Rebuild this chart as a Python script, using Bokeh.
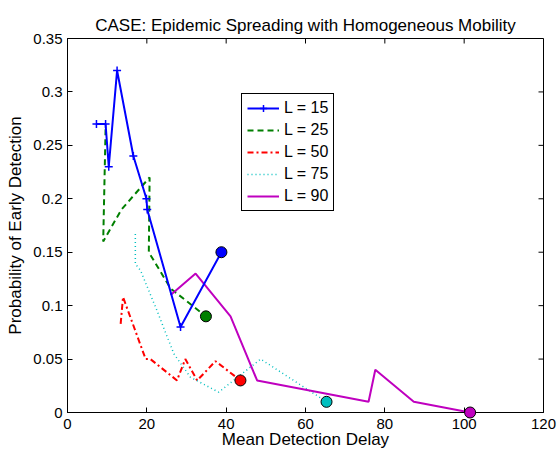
import math
from bokeh.plotting import figure
from bokeh.models import Legend, LegendItem, FixedTicker, Range1d
from bokeh.embed import file_html
from bokeh.resources import INLINE

# ---- data ----
title_text = "CASE: Epidemic Spreading with Homogeneous Mobility"
x_label = "Mean Detection Delay"
y_label = "Probability of Early Detection"

x_ticks = [0, 20, 40, 60, 80, 100, 120]
y_ticks = [0, 0.05, 0.1, 0.15, 0.2, 0.25, 0.3, 0.35]
y_tick_labels = ["0", "0.05", "0.1", "0.15", "0.2", "0.25", "0.3", "0.35"]

labels = ["L = 15", "L = 25", "L = 50", "L = 75", "L = 90"]

l15_x = [7.3, 9.6, 10.4, 12.5, 16.6, 19.9, 20.1, 28.5, 38.8]
l15_y = [0.27, 0.27, 0.23, 0.32, 0.24, 0.20, 0.19, 0.08, 0.15]

l25_x = [9.6, 9.0, 13.6, 20.7, 20.5, 26.0, 34.9]
l25_y = [0.265, 0.16, 0.19, 0.22, 0.15, 0.116, 0.09]

l50_x = [13.4, 14.0, 19.7, 20.9, 27.6, 29.7, 32.7, 37.3, 43.6]
l50_y = [0.083, 0.108, 0.05, 0.05, 0.03, 0.05, 0.03, 0.048, 0.03]

l75_x = [17.1, 17.1, 18.4, 22.6, 26.8, 31.0, 38.1, 48.7, 65.3]
l75_y = [0.167, 0.139, 0.133, 0.095, 0.055, 0.033, 0.019, 0.05, 0.01]

l90_x = [26.0, 32.3, 41.1, 47.8, 75.9, 77.6, 87.3, 101.5]
l90_y = [0.11, 0.13, 0.09, 0.03, 0.01, 0.04, 0.01, 0.0]

FONT = "Liberation Sans"

p = figure(width=559, height=452, output_backend="svg", toolbar_location=None,
           x_range=Range1d(x_ticks[0], x_ticks[-1]),
           y_range=Range1d(y_ticks[0], y_ticks[-1]),
           min_border_left=67, min_border_right=16, min_border_top=38,
           min_border_bottom=40)

p.title.text = title_text
p.title.align = "center"
p.title.text_font = FONT
p.title.text_font_size = "17px"
p.title.text_font_style = "normal"
p.title.text_color = "black"
p.title.standoff = 8

p.xgrid.grid_line_color = None
p.ygrid.grid_line_color = None
p.outline_line_color = "black"
p.outline_line_alpha = 1
p.outline_line_width = 1
p.background_fill_color = "white"
p.border_fill_color = "white"

for ax, ticks in ((p.xaxis[0], x_ticks), (p.yaxis[0], y_ticks)):
    ax.ticker = FixedTicker(ticks=ticks)
    ax.major_tick_in = 5
    ax.major_tick_out = 0
    ax.minor_tick_line_color = None
    ax.axis_line_color = "black"
    ax.major_tick_line_color = "black"
    ax.major_label_text_font = FONT
    ax.major_label_text_color = "black"
    ax.major_label_text_font_size = "15px"
    ax.axis_label_text_font = FONT
    ax.axis_label_text_font_size = "17px"
    ax.axis_label_text_font_style = "normal"
    ax.axis_label_text_color = "black"

p.yaxis[0].major_label_overrides = {t: s for t, s in zip(y_ticks, y_tick_labels)}
p.xaxis[0].axis_label = x_label
p.yaxis[0].axis_label = y_label
p.xaxis[0].major_label_standoff = 6
p.xaxis[0].axis_label_standoff = -2
p.yaxis[0].major_label_standoff = 5
p.yaxis[0].axis_label_standoff = 5

# inward tick marks on the top and right edges of the box
p.ray(x=x_ticks, y=[y_ticks[-1]] * len(x_ticks), length=5, length_units="screen",
      angle=-math.pi / 2, line_color="black", line_width=1)
p.ray(x=[x_ticks[-1]] * len(y_ticks), y=y_ticks, length=5, length_units="screen",
      angle=math.pi, line_color="black", line_width=1)

BLUE = "#0000FF"
GREEN = "#007F00"
RED = "#FF0000"
CYAN = "#00BFBF"
MAGENTA = "#BF00BF"

r25 = p.line(l25_x, l25_y, line_color=GREEN, line_width=2, line_dash="6 4")
r50 = p.line(l50_x, l50_y, line_color=RED, line_width=2, line_dash="6 3 2 3")
r75 = p.line(l75_x, l75_y, line_color=CYAN, line_width=1.5, line_dash="1 3")
r90 = p.line(l90_x, l90_y, line_color=MAGENTA, line_width=2)
r15 = p.line(l15_x, l15_y, line_color=BLUE, line_width=2)
r15m = p.scatter(l15_x[:-1], l15_y[:-1], marker="cross", size=8,
                 line_color=BLUE, line_width=1.5)

series = [(l15_x, l15_y, BLUE), (l25_x, l25_y, GREEN), (l50_x, l50_y, RED),
          (l75_x, l75_y, CYAN), (l90_x, l90_y, MAGENTA)]
for xs, ys, c in series:
    p.scatter([xs[-1]], [ys[-1]], marker="circle", size=11, fill_color=c,
              line_color="black", line_width=1, level="overlay")

legend = Legend(items=[
    LegendItem(label=labels[0], renderers=[r15, r15m]),
    LegendItem(label=labels[1], renderers=[r25]),
    LegendItem(label=labels[2], renderers=[r50]),
    LegendItem(label=labels[3], renderers=[r75]),
    LegendItem(label=labels[4], renderers=[r90]),
], location=(174, 201))
legend.label_text_font = FONT
legend.label_text_font_size = "16px"
legend.label_text_color = "black"
legend.glyph_width = 32
legend.glyph_height = 18
legend.label_height = 18
legend.spacing = 4
legend.padding = 5
legend.margin = 0
legend.label_standoff = 5
legend.border_line_color = "black"
legend.border_line_width = 1
legend.border_line_alpha = 1
legend.background_fill_alpha = 1
p.add_layout(legend, "center")

open("out.html", "w").write(file_html(p, INLINE))
